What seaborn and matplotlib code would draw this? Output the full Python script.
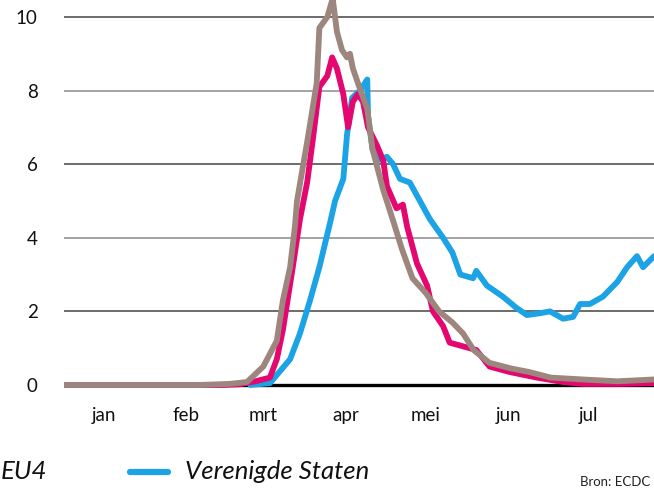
import pandas as pd
import numpy as np
import matplotlib
matplotlib.use("Agg")
import matplotlib.pyplot as plt
from matplotlib.lines import Line2D
import seaborn as sns

start = pd.Timestamp("2020-01-01")

# days since 1 jan 2020 and values
eu4_days = [0, 51, 62.4, 68.8, 74.9, 80, 82.3, 85, 86.8, 87.6, 91.4, 95, 96, 99, 101,
            102.6, 104.5, 106.4, 107.5, 108.6, 111, 114, 116, 120, 124, 127, 131, 136,
            141, 146, 150, 154, 160, 168, 175, 183, 195, 208, 221.8]
eu4_vals = [0, 0, 0.03, 0.08, 0.5, 1.2, 2.3, 3.2, 4.3, 5.0, 6.6, 8.2, 9.7, 10.0, 10.5,
            9.6, 9.1, 8.9, 9.0, 8.6, 8.1, 7.5, 6.4, 5.3, 4.4, 3.7, 2.9, 2.5,
            2.0, 1.7, 1.4, 0.95, 0.6, 0.45, 0.35, 0.2, 0.15, 0.1, 0.15]

nl_days = [0, 60, 66, 72, 77.4, 80, 82.3, 86, 88.7, 91.4, 93.6, 96, 99, 100.8, 102.6,
           105, 106.8, 108.6, 110.5, 112.4, 114.3, 117.7, 120, 121.4, 125, 127.4, 129,
           132.7, 136.5, 138.7, 142.5, 145, 150, 155, 160, 167.7, 177.8, 187.6, 195,
           209, 221.8]
nl_vals = [0, 0, 0.02, 0.1, 0.2, 0.7, 1.5, 3.2, 4.5, 5.5, 6.7, 8.1, 8.4, 8.9, 8.6,
           7.9, 7.0, 7.7, 7.9, 7.7, 7.0, 6.5, 6.1, 5.4, 4.8, 4.9, 4.3,
           3.3, 2.7, 2.0, 1.6, 1.15, 1.05, 0.95, 0.5, 0.35, 0.2, 0.08, 0.03,
           0.03, 0.05]

us_days = [70, 77.4, 85, 88.7, 92.5, 96, 100, 101.9, 105, 106.4, 108.3, 111.3, 114,
           114.3, 116, 117.7, 121.4, 123.7, 126.3, 130, 133.8, 137.6, 142.5, 146, 149,
           153.8, 155, 159, 165, 170, 174, 179, 182.7, 187.6, 191.4, 194, 197.7, 202.6,
           208, 211.7, 215.4, 217.7, 221.8]
us_vals = [0, 0.05, 0.7, 1.4, 2.3, 3.2, 4.4, 5.0, 5.6, 6.8, 7.8, 8.0, 8.3,
           7.3, 6.4, 6.1, 6.2, 6.0, 5.6, 5.5, 5.0, 4.5, 4.0, 3.6, 3.0,
           2.9, 3.1, 2.7, 2.4, 2.1, 1.9, 1.95, 2.0, 1.8, 1.85, 2.2, 2.2, 2.4,
           2.8, 3.2, 3.5, 3.2, 3.5]

months = ["jan", "feb", "mrt", "apr", "mei", "jun", "jul"]
month_starts = [0, 31, 60, 91, 121, 152, 182]
yticks = [0, 2, 4, 6, 8, 10]

colors = {"EU4": "#9c867d", "Nederland": "#e3076f", "Verenigde Staten": "#1ba3e6"}

frames = []
for name, d, v in [("Verenigde Staten", us_days, us_vals),
                   ("Nederland", nl_days, nl_vals),
                   ("EU4", eu4_days, eu4_vals)]:
    frames.append(pd.DataFrame({"date": start + pd.to_timedelta(d, unit="D"),
                                "value": v, "series": name}))
df = pd.concat(frames, ignore_index=True)

sns.set_style("white")
plt.rcParams["font.family"] = ["Lato", "DejaVu Sans"]

fig = plt.figure(figsize=(6.54, 4.90), dpi=100)
ax = fig.add_axes([64 / 654, 99.5 / 490, 590 / 654, 390.5 / 490])

# grid and zero line
for v in yticks[1:]:
    ax.axhline(v, color="#444444" if v in (2, 6, 10) else "#8a8a8a", lw=1.1, zorder=1)
ax.axhline(0, color="black", lw=2.4, zorder=1.5)

sns.lineplot(data=df, x="date", y="value", hue="series",
             hue_order=["Verenigde Staten", "Nederland", "EU4"],
             palette=colors, linewidth=4.2, estimator=None, legend=False, ax=ax)
for ln in ax.get_lines():
    ln.set_solid_capstyle("round")
    ln.set_solid_joinstyle("round")

ax.set_xlim(start, start + pd.Timedelta(days=221.8))
ax.set_ylim(-0.15, 10.46)
for s in ax.spines.values():
    s.set_visible(False)

ax.set_xticks([start + pd.Timedelta(days=d) for d in month_starts])
ax.set_xticklabels([])
mids = [start + pd.Timedelta(days=d + 15) for d in month_starts]
ax.set_xticks(mids, minor=True)
ax.set_xticklabels(months, minor=True, fontsize=13.5, color="#111111")
ax.tick_params(axis="x", which="major", length=8, width=1, color="#888888", direction="out")
ax.tick_params(axis="x", which="minor", length=0, pad=12)

ax.set_yticks(yticks)
ax.set_yticklabels([str(t) for t in yticks], fontsize=13.5, color="#111111")
ax.tick_params(axis="y", length=0, pad=19)
ax.set_xlabel("")
ax.set_ylabel("")

# legend row at the bottom
fig.add_artist(Line2D([130 / 654, 168 / 654], [1 - 472 / 490] * 2, color=colors["Verenigde Staten"],
                      lw=4.5, solid_capstyle="round"))
fig.text(185 / 654, 1 - 471 / 490, "Verenigde Staten", fontsize=18.5, style="italic", va="center",
         color="#111111")
fig.text(1 / 654, 1 - 471 / 490, "EU4", fontsize=18.5, style="italic", va="center", color="#111111")
fig.text(580 / 654, 1 - 488 / 490, "Bron: ECDC", fontsize=9.5, va="bottom", color="#222222")

fig.savefig("out.png", dpi=100)
